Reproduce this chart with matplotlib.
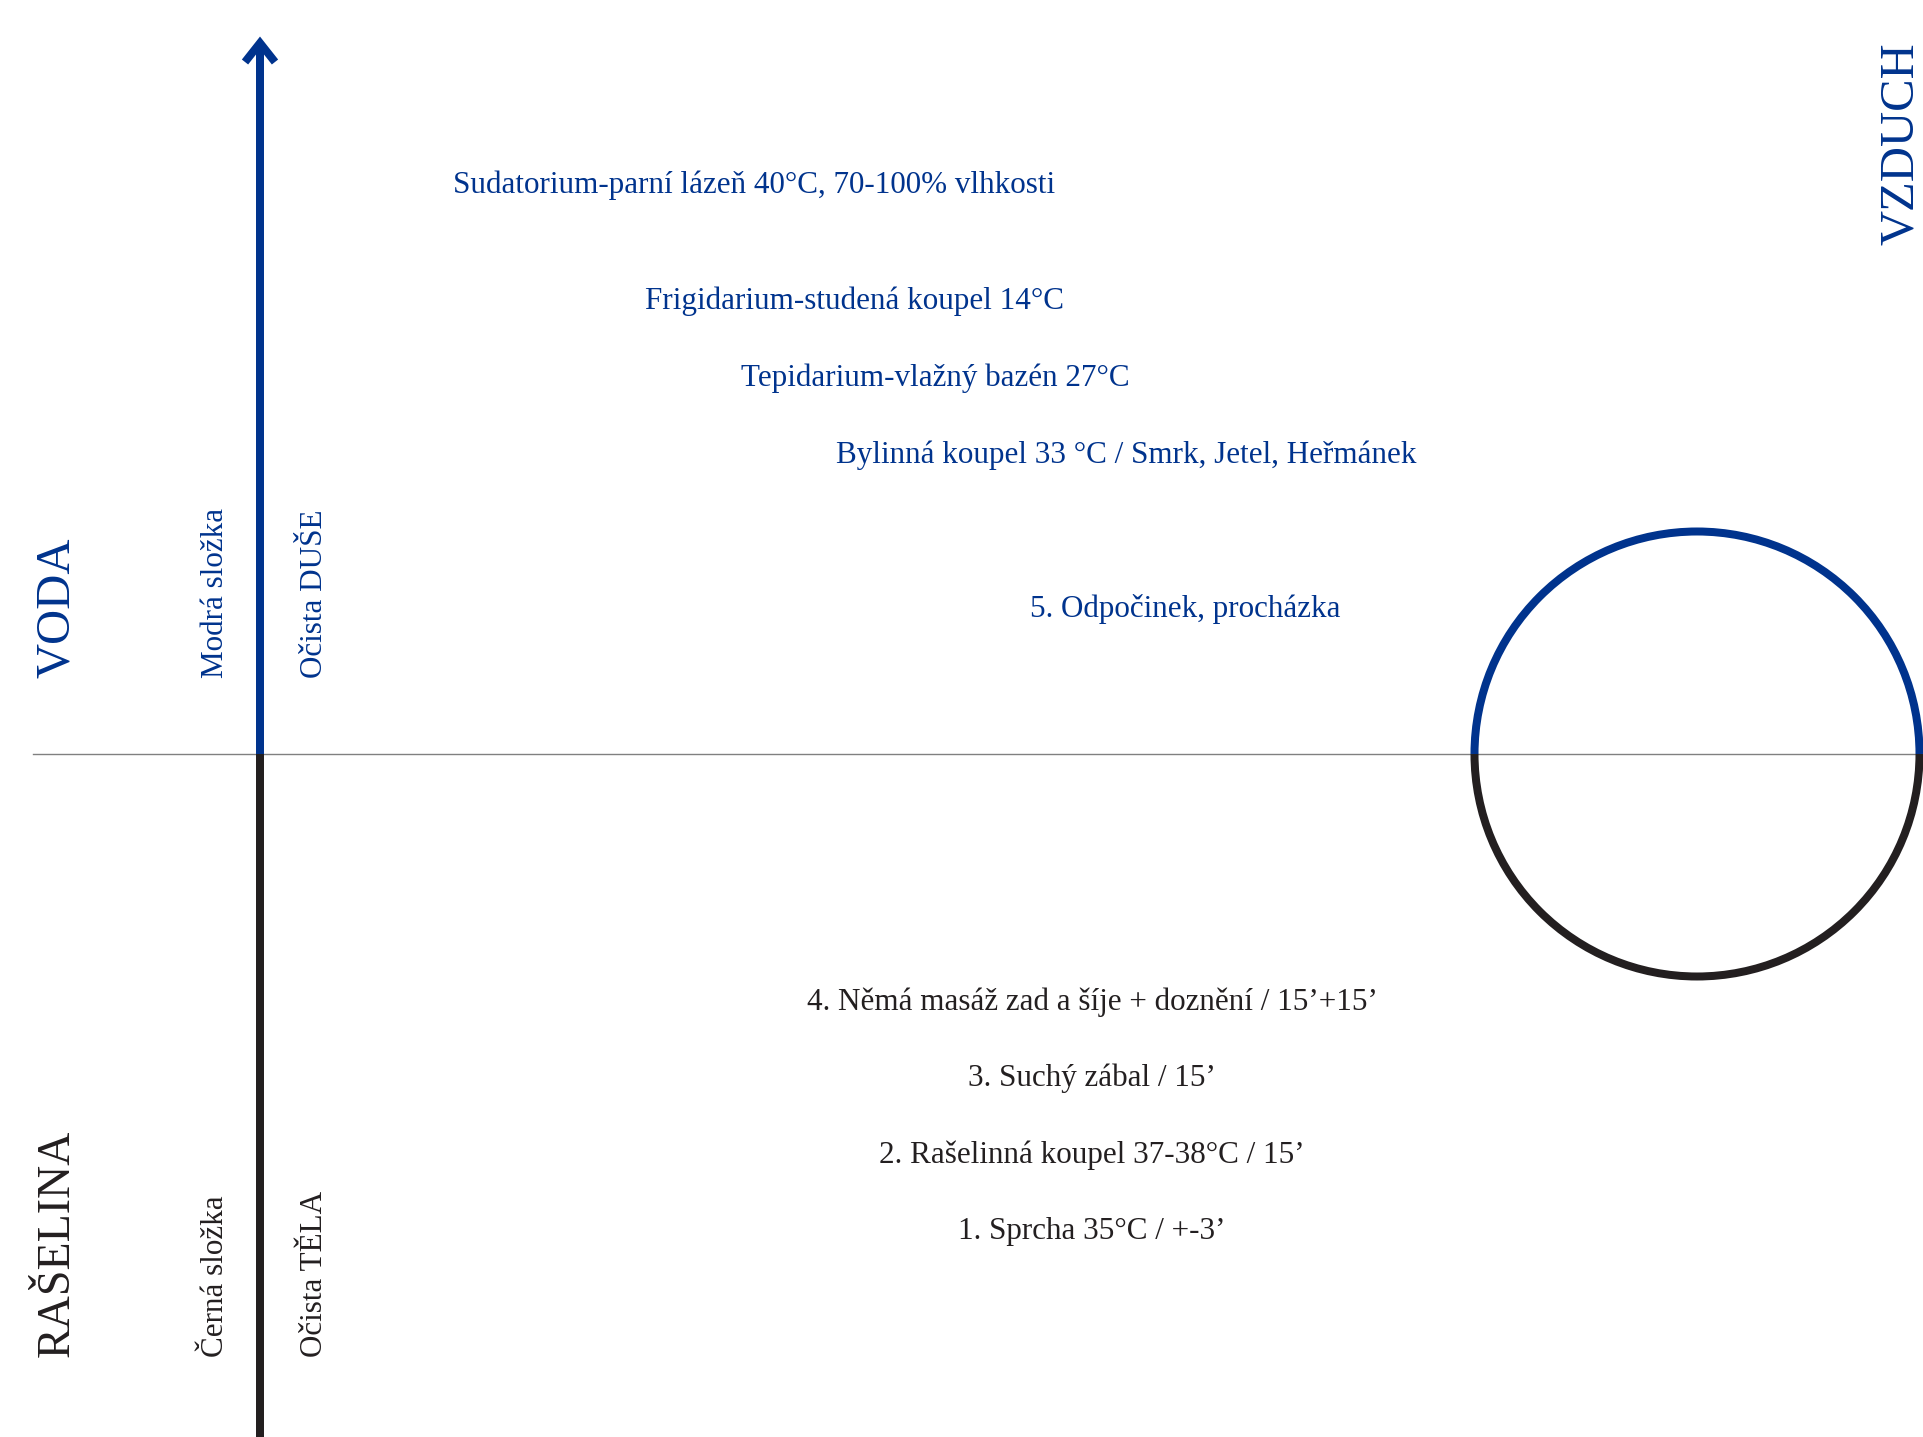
import matplotlib
matplotlib.use('Agg')
import matplotlib.pyplot as plt
from matplotlib.patches import Arc

BLUE = '#00338D'
BLACK = '#231F20'
GREY = '#808080'

# Procedure steps (upper half = water / soul, lower half = peat / body)
upper_steps = ['Sudatorium-parní lázeň 40°C, 70-100% vlhkosti',
               'Frigidarium-studená koupel 14°C',
               'Tepidarium-vlažný bazén 27°C',
               'Bylinná koupel 33 °C / Smrk, Jetel, Heřmánek',
               '5. Odpočinek, procházka']
lower_steps = ['4. Němá masáž zad a šíje + doznění / 15’+15’',
               '3. Suchý zábal / 15’',
               '2. Rašelinná koupel 37-38°C / 15’',
               '1. Sprcha 35°C / +-3’']

# Side labels
big_labels = ['VODA', 'RAŠELINA']
small_left = ['Modrá složka', 'Černá složka']
small_right = ['Očista DUŠE', 'Očista TĚLA']
corner_label = 'VZDUCH'

# layout (pixel coordinates, y grows downwards)
W, H = 1923, 1437
axis_x = 260
mid_y = 754
upper_x = [453, 645, 741, 836, 1030]
upper_y = [193, 309, 386, 463, 617]
lower_cx = 1092
lower_y = [1010, 1086, 1163, 1239]
side_bottom = [678, 1357]
circle_c = (1697, 754)
circle_d = 445

plt.rcParams['font.family'] = ['Liberation Serif', 'DejaVu Serif']

fig = plt.figure(figsize=(W / 100, H / 100), dpi=100)
ax = fig.add_axes([0, 0, 1, 1])
ax.set_xlim(0, W)
ax.set_ylim(H, 0)
ax.axis('off')

lw = 8 * 72 / 100  # 8 px strokes

# horizontal divider
ax.plot([33, W], [mid_y, mid_y], color=GREY, lw=1.0, zorder=1)

# vertical axis with arrow head
ax.plot([axis_x, axis_x], [mid_y, 44], color=BLUE, lw=lw, solid_capstyle='butt', zorder=2)
ax.plot([axis_x, axis_x], [mid_y, H], color=BLACK, lw=lw, solid_capstyle='butt', zorder=2)
ax.plot([axis_x - 15, axis_x, axis_x + 15], [62, 43, 62], color=BLUE, lw=lw,
        solid_joinstyle='miter', solid_capstyle='butt', zorder=2)

# circle: top half blue, bottom half black
ax.add_patch(Arc(circle_c, circle_d, circle_d, theta1=180, theta2=360,
                 color=BLUE, lw=lw, zorder=3))
ax.add_patch(Arc(circle_c, circle_d, circle_d, theta1=0, theta2=180,
                 color=BLACK, lw=lw, zorder=3))

fs = 22.4
for txt, x, y in zip(upper_steps, upper_x, upper_y):
    ax.text(x, y, txt, color=BLUE, fontsize=fs, ha='left', va='baseline')
for txt, y in zip(lower_steps, lower_y):
    ax.text(lower_cx, y, txt, color=BLACK, fontsize=fs, ha='center', va='baseline')

# rotated side labels
colors = [BLUE, BLACK]
big_fs = [35, 33]
for i in range(2):
    ax.text(69, side_bottom[i], big_labels[i], color=colors[i], fontsize=big_fs[i],
            rotation=90, rotation_mode='anchor', ha='left', va='baseline')
    ax.text(223, side_bottom[i], small_left[i], color=colors[i], fontsize=fs,
            rotation=90, rotation_mode='anchor', ha='left', va='baseline')
    ax.text(322, side_bottom[i], small_right[i], color=colors[i], fontsize=fs,
            rotation=90, rotation_mode='anchor', ha='left', va='baseline')

ax.text(1913, 245, corner_label, color=BLUE, fontsize=35,
        rotation=90, rotation_mode='anchor', ha='left', va='baseline')

fig.savefig('out.png', dpi=100)
